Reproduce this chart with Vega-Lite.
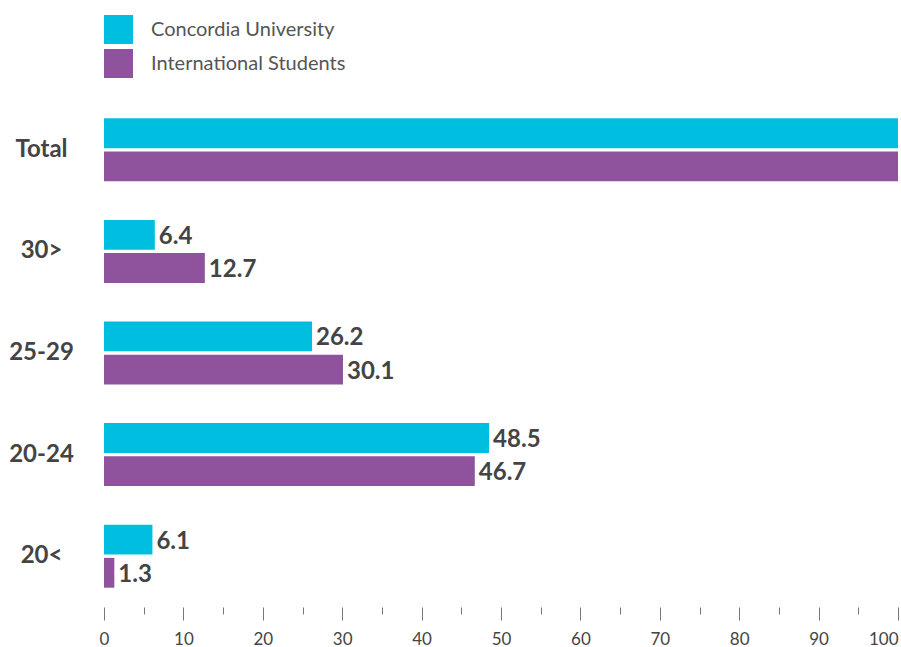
{
  "$schema": "https://vega.github.io/schema/vega-lite/v6.json",
  "width": 794,
  "height": 508,
  "autosize": {"type": "none"},
  "padding": {"left": 104, "top": 99, "right": 3, "bottom": 40},
  "background": "white",
  "data": {
    "values": [
      {"cat": "Total", "series": "Concordia University", "value": 100},
      {"cat": "Total", "series": "International Students", "value": 100},
      {"cat": "30>", "series": "Concordia University", "value": 6.4},
      {"cat": "30>", "series": "International Students", "value": 12.7},
      {"cat": "25-29", "series": "Concordia University", "value": 26.2},
      {"cat": "25-29", "series": "International Students", "value": 30.1},
      {"cat": "20-24", "series": "Concordia University", "value": 48.5},
      {"cat": "20-24", "series": "International Students", "value": 46.7},
      {"cat": "20<", "series": "Concordia University", "value": 6.1},
      {"cat": "20<", "series": "International Students", "value": 1.3}
    ]
  },
  "encoding": {
    "y": {
      "field": "cat",
      "type": "nominal",
      "sort": ["Total", "30>", "25-29", "20-24", "20<"],
      "scale": {"paddingInner": 0.38, "paddingOuter": 0.19},
      "axis": {
        "title": null,
        "ticks": false,
        "tickSize": 0,
        "domain": false,
        "labelAlign": "center",
        "labelBaseline": "middle",
        "labelPadding": 63,
        "labelFont": "Lato",
        "labelFontWeight": "bold",
        "labelFontSize": 24,
        "labelColor": "#444444"
      }
    },
    "yOffset": {
      "field": "series",
      "type": "nominal",
      "sort": ["Concordia University", "International Students"],
      "scale": {"paddingInner": 0.1}
    },
    "x": {
      "field": "value",
      "type": "quantitative",
      "scale": {"domain": [0, 100], "nice": false},
      "axis": {
        "title": null,
        "grid": false,
        "domain": false,
        "values": [0, 5, 10, 15, 20, 25, 30, 35, 40, 45, 50, 55, 60, 65, 70, 75, 80, 85, 90, 95, 100],
        "labelExpr": "datum.value % 10 === 0 ? datum.label : ''",
        "labelAlign": {"condition": {"test": "datum.value === 100", "value": "right"}, "value": "center"},
        "tickColor": "#777777",
        "tickWidth": 1,
        "tickSize": {"condition": {"test": "datum.value % 10 === 5", "value": 7}, "value": 13},
        "labelPadding": 11,
        "labelFont": "Lato",
        "labelFontSize": 17,
        "labelColor": "#444444",
        "labelOverlap": false,
        "labelFlush": false
      }
    }
  },
  "layer": [
    {
      "mark": {"type": "bar"},
      "encoding": {
        "color": {
          "field": "series",
          "type": "nominal",
          "scale": {
            "domain": ["Concordia University", "International Students"],
            "range": ["#00BEE0", "#8F539E"]
          },
          "legend": {
            "title": null,
            "orient": "none",
            "legendX": 0,
            "legendY": -84,
            "symbolType": "square",
            "symbolSize": 841,
            "symbolStrokeWidth": 0,
            "symbolOpacity": 1,
            "labelFont": "Lato",
            "labelFontSize": 20,
            "labelColor": "#555555",
            "labelOffset": 18,
            "labelLimit": 500,
            "rowPadding": 5,
            "padding": 0
          }
        }
      }
    },
    {
      "transform": [{"filter": "datum.cat !== 'Total'"}],
      "mark": {
        "type": "text",
        "align": "left",
        "baseline": "middle",
        "dx": 4,
        "dy": 2,
        "font": "Lato",
        "fontWeight": "bold",
        "fontSize": 24,
        "color": "#444444"
      },
      "encoding": {
        "text": {"field": "value", "type": "quantitative", "format": ".1f"}
      }
    }
  ],
  "config": {"view": {"stroke": null}}
}
